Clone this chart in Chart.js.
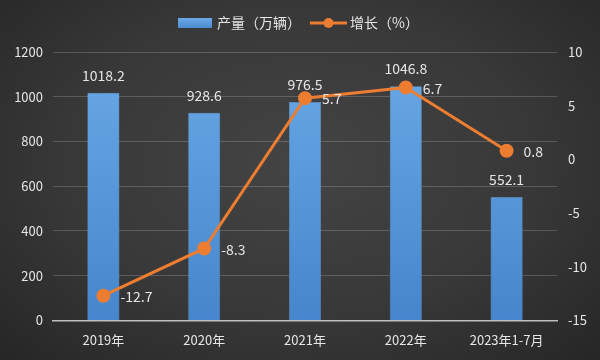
<!DOCTYPE html>
<html><head><meta charset="utf-8">
<script src="https://cdn.jsdelivr.net/npm/chart.js@4/dist/chart.umd.min.js"></script>
<style>
html,body{margin:0;padding:0;}
body{width:600px;height:360px;background:radial-gradient(ellipse at 50% 45%,#444444 0%,#383838 55%,#262626 100%);}
#wrap{position:relative;width:600px;height:360px;}
</style></head>
<body><div id="wrap"><canvas id="c" width="600" height="360"></canvas></div>
<script>
const categories = ['2019年','2020年','2021年','2022年','2023年1-7月'];
const production = [1018.2, 928.6, 976.5, 1046.8, 552.1];
const growth = [-12.7, -8.3, 5.7, 6.7, 0.8];
const seriesNames = ['产量（万辆）','增长（%）'];
const FONT = '"Noto Sans CJK SC", "DejaVu Sans", sans-serif';
const TXT = '#e6e6e6';

const labelPlugin = {
  id: 'labels',
  afterDatasetsDraw(chart) {
    const ctx = chart.ctx;
    ctx.save();
    ctx.font = '14px ' + FONT;
    ctx.fillStyle = TXT;
    const mBar = chart.getDatasetMeta(1);
    mBar.data.forEach((el, i) => {
      ctx.textAlign = 'center'; ctx.textBaseline = 'alphabetic';
      ctx.fillText(production[i].toFixed(1), el.x, el.y - 12);
    });
    const mLine = chart.getDatasetMeta(0);
    mLine.data.forEach((el, i) => {
      ctx.textAlign = 'left'; ctx.textBaseline = 'middle';
      ctx.fillText(growth[i].toFixed(1), el.x + 17, el.y + 1);
    });
    ctx.restore();
  },
  afterDraw(chart) {
    const ctx = chart.ctx;
    ctx.save();
    ctx.font = '14px ' + FONT;
    ctx.textBaseline = 'middle';
    ctx.textAlign = 'left';
    const y = 23;
    const g = ctx.createLinearGradient(0, 18, 0, 28);
    g.addColorStop(0, '#6aaae6'); g.addColorStop(1, '#4a8ad0');
    ctx.fillStyle = g;
    ctx.fillRect(178, 18, 34, 10);
    ctx.fillStyle = TXT;
    ctx.fillText(seriesNames[0], 217, y);
    ctx.strokeStyle = '#ed7d31'; ctx.lineWidth = 3;
    ctx.beginPath(); ctx.moveTo(310, y); ctx.lineTo(347, y); ctx.stroke();
    ctx.fillStyle = '#ed7d31';
    ctx.beginPath(); ctx.arc(328.5, y, 5, 0, Math.PI * 2); ctx.fill();
    ctx.fillStyle = TXT;
    ctx.fillText(seriesNames[1], 350, y);
    ctx.restore();
  }
};

function barGradient(context) {
  const chart = context.chart;
  const area = chart.chartArea;
  if (!area) return '#5b9bd5';
  const g = chart.ctx.createLinearGradient(0, area.top, 0, area.bottom);
  g.addColorStop(0, '#6ba9e6');
  g.addColorStop(1, '#4586cc');
  return g;
}

new Chart(document.getElementById('c'), {
  data: {
    labels: categories,
    datasets: [
      { type: 'line', label: seriesNames[1], data: growth, yAxisID: 'y1',
        borderColor: '#ed7d31', backgroundColor: '#ed7d31', borderWidth: 3,
        pointRadius: 5.5, pointHoverRadius: 5.5, pointBackgroundColor: '#ed7d31',
        pointBorderColor: '#ed7d31', tension: 0, order: 0 },
      { type: 'bar', label: seriesNames[0], data: production, yAxisID: 'y',
        backgroundColor: barGradient, borderColor: 'rgba(120,170,225,0.9)', borderWidth: 0.5,
        barPercentage: 0.318, categoryPercentage: 1, order: 1 }
    ]
  },
  options: {
    responsive: false, animation: false,
    layout: { padding: { top: 52, left: 0, right: 0, bottom: 0 } },
    plugins: { legend: { display: false }, tooltip: { enabled: false } },
    scales: {
      x: {
        grid: { display: false, drawTicks: false },
        border: { color: '#bfbfbf', width: 1.5 },
        ticks: { color: TXT, font: { family: FONT, size: 13 }, padding: 12, maxRotation: 0, autoSkip: false }
      },
      y: {
        position: 'left', min: 0, max: 1200,
        ticks: { stepSize: 200, color: TXT, font: { family: FONT, size: 13 }, padding: 10,
                 callback: v => String(v) },
        grid: { color: 'rgba(255,255,255,0.18)', drawTicks: false, lineWidth: 1 },
        border: { display: false },
        afterFit(s) { s.width = 53; }
      },
      y1: {
        position: 'right', min: -15, max: 10,
        ticks: { stepSize: 5, color: TXT, font: { family: FONT, size: 13 }, padding: 11,
                 callback: v => String(v) },
        grid: { display: false, drawTicks: false },
        border: { display: false },
        afterFit(s) { s.width = 43; }
      }
    }
  },
  plugins: [labelPlugin]
});
</script></body></html>
